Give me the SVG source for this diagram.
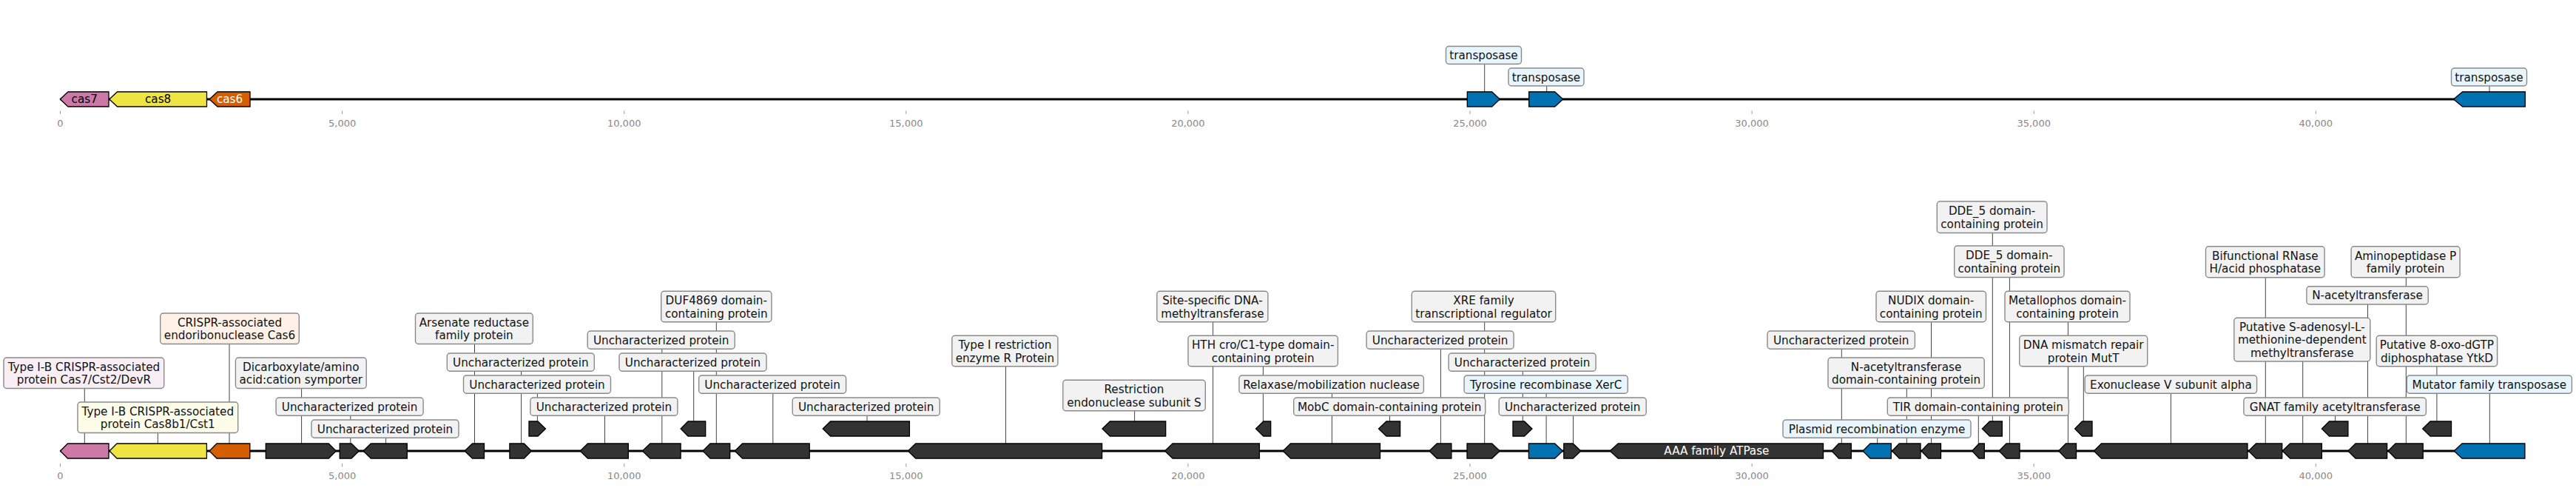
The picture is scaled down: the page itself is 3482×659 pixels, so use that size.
<svg xmlns="http://www.w3.org/2000/svg" width="3482" height="659" viewBox="0 0 3482 659">
<style>
text{font-family:"DejaVu Sans","Liberation Sans",sans-serif}
.bb{stroke:#000;stroke-width:2.8;fill:none}
.tk{stroke:#999;stroke-width:1}
.tl{font-size:13px;fill:#888;text-anchor:middle}
.gn{stroke:#000;stroke-width:1.3;stroke-linejoin:miter}
.dk{fill:#333}
.bl{fill:#0072b2}
.pk{fill:#cc79a7}
.ye{fill:#f0e442}
.or{fill:#d55e00}
.ld{stroke:#444;stroke-width:1;fill:none}
.bx{stroke:#8a8a8a;stroke-width:1.4}
.bg{fill:#f2f2f2}
.bbl{fill:#e8f5fc}
.bpk{fill:#f9eef4}
.bye{fill:#fcfce9}
.bor{fill:#fdf1e8}
.lb{font-size:15.2px;fill:#111;text-anchor:middle}
.in{font-size:15.2px;text-anchor:middle}
</style>
<rect width="3482" height="659" fill="#fff"/>
<g id="backbones">
<line class="bb" x1="81.5" y1="134" x2="3413" y2="134"/>
<line class="bb" x1="81.5" y1="609" x2="3413" y2="609"/>
</g>
<g id="axes">
<g id="axis-top">
<line class="tk" x1="81.5" y1="149.5" x2="81.5" y2="154"/><text class="tl" x="81.5" y="171">0</text>
<line class="tk" x1="462.6" y1="149.5" x2="462.6" y2="154"/><text class="tl" x="462.6" y="171">5,000</text>
<line class="tk" x1="843.7" y1="149.5" x2="843.7" y2="154"/><text class="tl" x="843.7" y="171">10,000</text>
<line class="tk" x1="1224.8" y1="149.5" x2="1224.8" y2="154"/><text class="tl" x="1224.8" y="171">15,000</text>
<line class="tk" x1="1605.9" y1="149.5" x2="1605.9" y2="154"/><text class="tl" x="1605.9" y="171">20,000</text>
<line class="tk" x1="1987" y1="149.5" x2="1987" y2="154"/><text class="tl" x="1987" y="171">25,000</text>
<line class="tk" x1="2368.1" y1="149.5" x2="2368.1" y2="154"/><text class="tl" x="2368.1" y="171">30,000</text>
<line class="tk" x1="2749.2" y1="149.5" x2="2749.2" y2="154"/><text class="tl" x="2749.2" y="171">35,000</text>
<line class="tk" x1="3130.3" y1="149.5" x2="3130.3" y2="154"/><text class="tl" x="3130.3" y="171">40,000</text>
</g>
<g id="axis-bottom">
<line class="tk" x1="81.5" y1="626" x2="81.5" y2="630.5"/><text class="tl" x="81.5" y="647">0</text>
<line class="tk" x1="462.6" y1="626" x2="462.6" y2="630.5"/><text class="tl" x="462.6" y="647">5,000</text>
<line class="tk" x1="843.7" y1="626" x2="843.7" y2="630.5"/><text class="tl" x="843.7" y="647">10,000</text>
<line class="tk" x1="1224.8" y1="626" x2="1224.8" y2="630.5"/><text class="tl" x="1224.8" y="647">15,000</text>
<line class="tk" x1="1605.9" y1="626" x2="1605.9" y2="630.5"/><text class="tl" x="1605.9" y="647">20,000</text>
<line class="tk" x1="1987" y1="626" x2="1987" y2="630.5"/><text class="tl" x="1987" y="647">25,000</text>
<line class="tk" x1="2368.1" y1="626" x2="2368.1" y2="630.5"/><text class="tl" x="2368.1" y="647">30,000</text>
<line class="tk" x1="2749.2" y1="626" x2="2749.2" y2="630.5"/><text class="tl" x="2749.2" y="647">35,000</text>
<line class="tk" x1="3130.3" y1="626" x2="3130.3" y2="630.5"/><text class="tl" x="3130.3" y="647">40,000</text>
</g>
</g>
<g id="connectors">
<line class="ld" x1="2006.7" y1="86" x2="2006.7" y2="124"/>
<line class="ld" x1="2090.7" y1="116" x2="2090.7" y2="124"/>
<line class="ld" x1="3365" y1="116" x2="3365" y2="124"/>
<line class="ld" x1="114.3" y1="524" x2="114.3" y2="599"/>
<line class="ld" x1="213.3" y1="584" x2="213.3" y2="599"/>
<line class="ld" x1="310" y1="464" x2="310" y2="599"/>
<line class="ld" x1="407.6" y1="524" x2="407.6" y2="599"/>
<line class="ld" x1="473.8" y1="561" x2="473.8" y2="599"/>
<line class="ld" x1="521.6" y1="591" x2="521.6" y2="599"/>
<line class="ld" x1="641.5" y1="464" x2="641.5" y2="599"/>
<line class="ld" x1="704.6" y1="501" x2="704.6" y2="599"/>
<line class="ld" x1="726.4" y1="531" x2="726.4" y2="569"/>
<line class="ld" x1="817.5" y1="561" x2="817.5" y2="599"/>
<line class="ld" x1="894.8" y1="471" x2="894.8" y2="599"/>
<line class="ld" x1="968.3" y1="434" x2="968.3" y2="599"/>
<line class="ld" x1="937.7" y1="501" x2="937.7" y2="569"/>
<line class="ld" x1="1044.8" y1="531" x2="1044.8" y2="599"/>
<line class="ld" x1="1172" y1="561" x2="1172" y2="569"/>
<line class="ld" x1="1359.5" y1="494" x2="1359.5" y2="599"/>
<line class="ld" x1="1533.6" y1="554" x2="1533.6" y2="569"/>
<line class="ld" x1="1639.6" y1="434" x2="1639.6" y2="599"/>
<line class="ld" x1="1707.4" y1="494" x2="1707.4" y2="569"/>
<line class="ld" x1="1800.4" y1="531" x2="1800.4" y2="599"/>
<line class="ld" x1="1878.5" y1="561" x2="1878.5" y2="569"/>
<line class="ld" x1="1947.4" y1="471" x2="1947.4" y2="599"/>
<line class="ld" x1="2006.7" y1="434" x2="2006.7" y2="599"/>
<line class="ld" x1="2058.3" y1="501" x2="2058.3" y2="569"/>
<line class="ld" x1="2090.1" y1="531" x2="2090.1" y2="599"/>
<line class="ld" x1="2126.5" y1="561" x2="2126.5" y2="599"/>
<line class="ld" x1="2489.3" y1="471" x2="2489.3" y2="599"/>
<line class="ld" x1="2537.7" y1="591" x2="2537.7" y2="599"/>
<line class="ld" x1="2577.3" y1="524" x2="2577.3" y2="599"/>
<line class="ld" x1="2610.5" y1="434" x2="2610.5" y2="599"/>
<line class="ld" x1="2674.3" y1="561" x2="2674.3" y2="599"/>
<line class="ld" x1="2693.3" y1="314" x2="2693.3" y2="569"/>
<line class="ld" x1="2716.4" y1="374" x2="2716.4" y2="599"/>
<line class="ld" x1="2795.4" y1="434" x2="2795.4" y2="599"/>
<line class="ld" x1="2816.3" y1="494" x2="2816.3" y2="569"/>
<line class="ld" x1="2934.4" y1="531" x2="2934.4" y2="599"/>
<line class="ld" x1="3062.3" y1="374" x2="3062.3" y2="599"/>
<line class="ld" x1="3112.7" y1="488" x2="3112.7" y2="599"/>
<line class="ld" x1="3156.6" y1="561" x2="3156.6" y2="569"/>
<line class="ld" x1="3200.5" y1="411" x2="3200.5" y2="599"/>
<line class="ld" x1="3252.3" y1="374" x2="3252.3" y2="599"/>
<line class="ld" x1="3293.9" y1="494" x2="3293.9" y2="569"/>
<line class="ld" x1="3365.3" y1="531" x2="3365.3" y2="599"/>
</g>
<g id="top-track">
<g id="t1"><polygon class="gn pk" points="81.3,134 92,124 147,124 147,144 92,144"/><text class="in" x="114.2" y="139.3" fill="#000">cas7</text></g>
<g id="t2"><polygon class="gn ye" points="147.8,134 158.5,124 279.5,124 279.5,144 158.5,144"/><text class="in" x="213.6" y="139.3" fill="#000">cas8</text></g>
<g id="t3"><polygon class="gn or" points="283,134 294,124 338,124 338,144 294,144"/><text class="in" x="310.5" y="139.3" fill="#fff">cas6</text></g>
<g id="t4"><polygon class="gn bl" points="1983.3,124 2016.7,124 2027.3,134 2016.7,144 1983.3,144"/><rect class="bx bbl" x="1954.5" y="62.5" width="102" height="24" rx="4"/><text class="lb" x="2005.5" y="80">transposase</text></g>
<g id="t5"><polygon class="gn bl" points="2066.7,124 2101.7,124 2112.7,134 2101.7,144 2066.7,144"/><rect class="bx bbl" x="2039" y="92" width="102" height="24" rx="4"/><text class="lb" x="2090" y="109.5">transposase</text></g>
<g id="t6"><polygon class="gn bl" points="3316.5,134 3328.6,124 3413.3,124 3413.3,144 3328.6,144"/><rect class="bx bbl" x="3313.5" y="92" width="102" height="24" rx="4"/><text class="lb" x="3364.5" y="109.5">transposase</text></g>
</g>
<g id="bottom-track">
<g id="g1"><polygon class="gn pk" points="81.5,609 91.5,599 147,599 147,619 91.5,619"/><rect class="bx bpk" x="5" y="483" width="216.7" height="41.5" rx="4"/><text class="lb" x="113.4"><tspan x="113.4" y="501">Type I-B CRISPR-associated</tspan><tspan x="113.4" y="518.3">protein Cas7/Cst2/DevR</tspan></text></g>
<g id="g2"><polygon class="gn ye" points="148,609 158,599 279.4,599 279.4,619 158,619"/><rect class="bx bye" x="105" y="543" width="216.7" height="41.5" rx="4"/><text class="lb"><tspan x="213.3" y="561">Type I-B CRISPR-associated</tspan><tspan x="213.3" y="578.3">protein Cas8b1/Cst1</tspan></text></g>
<g id="g3"><polygon class="gn or" points="283,609 293,599 337.8,599 337.8,619 293,619"/><rect class="bx bor" x="216.7" y="423" width="187.6" height="41.5" rx="4"/><text class="lb"><tspan x="310.5" y="441">CRISPR-associated</tspan><tspan x="310.5" y="458.3">endoribonuclease Cas6</tspan></text></g>
<g id="g4"><polygon class="gn dk" points="359.3,599 444.3,599 454.3,609 444.3,619 359.3,619"/><rect class="bx bg" x="318.4" y="483" width="176.8" height="41.5" rx="4"/><text class="lb"><tspan x="406.8" y="501">Dicarboxylate/amino</tspan><tspan x="406.8" y="518.3">acid:cation symporter</tspan></text></g>
<g id="g5"><polygon class="gn dk" points="459.2,599 475,599 485.3,609 475,619 459.2,619"/><rect class="bx bg" x="373.1" y="537" width="199" height="24.3" rx="4"/><text class="lb" x="472.6" y="554.5">Uncharacterized protein</text></g>
<g id="g6"><polygon class="gn dk" points="491,609 501.3,599 550.3,599 550.3,619 501.3,619"/><rect class="bx bg" x="421" y="567" width="199" height="24.3" rx="4"/><text class="lb" x="520.5" y="584.5">Uncharacterized protein</text></g>
<g id="g7"><polygon class="gn dk" points="628.1,609 638.5,599 654.5,599 654.5,619 638.5,619"/><rect class="bx bg" x="561.5" y="423" width="158.8" height="41.5" rx="4"/><text class="lb"><tspan x="640.9" y="441">Arsenate reductase</tspan><tspan x="640.9" y="458.3">family protein</tspan></text></g>
<g id="g8"><polygon class="gn dk" points="688.9,599 708.4,599 718.4,609 708.4,619 688.9,619"/><rect class="bx bg" x="604.3" y="477" width="199" height="24.3" rx="4"/><text class="lb" x="703.8" y="494.5">Uncharacterized protein</text></g>
<g id="g9"><polygon class="gn dk" points="715,569 727,569 737.5,579 727,589 715,589"/><rect class="bx bg" x="626.5" y="507" width="199" height="24.3" rx="4"/><text class="lb" x="726" y="524.5">Uncharacterized protein</text></g>
<g id="g10"><polygon class="gn dk" points="784.2,609 794.5,599 849.3,599 849.3,619 794.5,619"/><rect class="bx bg" x="716.9" y="537" width="199" height="24.3" rx="4"/><text class="lb" x="816.4" y="554.5">Uncharacterized protein</text></g>
<g id="g11"><polygon class="gn dk" points="868.4,609 878.8,599 920.1,599 920.1,619 878.8,619"/><rect class="bx bg" x="794.2" y="447" width="199" height="24.3" rx="4"/><text class="lb" x="893.7" y="464.5">Uncharacterized protein</text></g>
<g id="g12"><polygon class="gn dk" points="920.1,579 930,569 953.7,569 953.7,589 930,589"/><rect class="bx bg" x="837" y="477" width="199" height="24.3" rx="4"/><text class="lb" x="936.5" y="494.5">Uncharacterized protein</text></g>
<g id="g13"><polygon class="gn dk" points="950,609 960,599 986.7,599 986.7,619 960,619"/><rect class="bx bg" x="893.7" y="393.3" width="149.2" height="41.5" rx="4"/><text class="lb"><tspan x="968.3" y="411.3">DUF4869 domain-</tspan><tspan x="968.3" y="428.6">containing protein</tspan></text></g>
<g id="g14"><polygon class="gn dk" points="993.2,609 1003.5,599 1094.2,599 1094.2,619 1003.5,619"/><rect class="bx bg" x="944.6" y="507" width="199" height="24.3" rx="4"/><text class="lb" x="1044.1" y="524.5">Uncharacterized protein</text></g>
<g id="g15"><polygon class="gn dk" points="1112.2,579 1122.5,569 1229.4,569 1229.4,589 1122.5,589"/><rect class="bx bg" x="1071.2" y="537" width="199" height="24.3" rx="4"/><text class="lb" x="1170.7" y="554.5">Uncharacterized protein</text></g>
<g id="g16"><polygon class="gn dk" points="1227.4,609 1237.7,599 1489.6,599 1489.6,619 1237.7,619"/><rect class="bx bg" x="1286.8" y="453.3" width="143.1" height="41.5" rx="4"/><text class="lb"><tspan x="1358.4" y="471.3">Type I restriction</tspan><tspan x="1358.4" y="488.6">enzyme R Protein</tspan></text></g>
<g id="g17"><polygon class="gn dk" points="1490,579 1500.3,569 1575.7,569 1575.7,589 1500.3,589"/><rect class="bx bg" x="1436.8" y="513.3" width="192.5" height="41.5" rx="4"/><text class="lb"><tspan x="1533" y="531.3">Restriction</tspan><tspan x="1533" y="548.6">endonuclease subunit S</tspan></text></g>
<g id="g18"><polygon class="gn dk" points="1574.6,609 1585,599 1702.4,599 1702.4,619 1585,619"/><rect class="bx bg" x="1563.8" y="393.3" width="150.1" height="41.5" rx="4"/><text class="lb"><tspan x="1638.9" y="411.3">Site-specific DNA-</tspan><tspan x="1638.9" y="428.6">methyltransferase</tspan></text></g>
<g id="g19"><polygon class="gn dk" points="1697.5,579 1707.8,569 1717.7,569 1717.7,589 1707.8,589"/><rect class="bx bg" x="1606" y="453.3" width="202.4" height="41.5" rx="4"/><text class="lb"><tspan x="1707.2" y="471.3">HTH cro/C1-type domain-</tspan><tspan x="1707.2" y="488.6">containing protein</tspan></text></g>
<g id="g20"><polygon class="gn dk" points="1734.2,609 1744.5,599 1865.5,599 1865.5,619 1744.5,619"/><rect class="bx bg" x="1674.9" y="507" width="249.5" height="24.3" rx="4"/><text class="lb" x="1799.6" y="524.5">Relaxase/mobilization nuclease</text></g>
<g id="g21"><polygon class="gn dk" points="1863.5,579 1874,569 1892.6,569 1892.6,589 1874,589"/><rect class="bx bg" x="1748.7" y="537" width="259.1" height="24.3" rx="4"/><text class="lb" x="1878.2" y="554.5">MobC domain-containing protein</text></g>
<g id="g22"><polygon class="gn dk" points="1932,609 1942.3,599 1961.9,599 1961.9,619 1942.3,619"/><rect class="bx bg" x="1847.1" y="447" width="199" height="24.3" rx="4"/><text class="lb" x="1946.6" y="464.5">Uncharacterized protein</text></g>
<g id="g23"><polygon class="gn dk" points="1983,599 2016.7,599 2027.3,609 2016.7,619 1983,619"/><rect class="bx bg" x="1908.3" y="393.3" width="194.4" height="41.5" rx="4"/><text class="lb"><tspan x="2005.5" y="411.3">XRE family</tspan><tspan x="2005.5" y="428.6">transcriptional regulator</tspan></text></g>
<g id="g24"><polygon class="gn dk" points="2045,569 2060.5,569 2071,579 2060.5,589 2045,589"/><rect class="bx bg" x="1958.1" y="477" width="199" height="24.3" rx="4"/><text class="lb" x="2057.6" y="494.5">Uncharacterized protein</text></g>
<g id="g25"><polygon class="gn bl" points="2066.4,599 2101.7,599 2112.3,609 2101.7,619 2066.4,619"/><rect class="bx bbl" x="1979.1" y="507" width="221.2" height="24.3" rx="4"/><text class="lb" x="2089.7" y="524.5">Tyrosine recombinase XerC</text></g>
<g id="g26"><polygon class="gn dk" points="2113.8,599 2126.3,599 2136.8,609 2126.3,619 2113.8,619"/><rect class="bx bg" x="2026.2" y="537" width="199" height="24.3" rx="4"/><text class="lb" x="2125.7" y="554.5">Uncharacterized protein</text></g>
<g id="g27"><polygon class="gn dk" points="2176.2,609 2187.2,599 2464.5,599 2464.5,619 2187.2,619"/><text class="in" x="2320.4" y="614.3" fill="#fff">AAA family ATPase</text></g>
<g id="g28"><polygon class="gn dk" points="2476,609 2485.5,599 2502.3,599 2502.3,619 2485.5,619"/><rect class="bx bg" x="2389" y="447" width="199.4" height="24.3" rx="4"/><text class="lb" x="2488.7" y="464.5">Uncharacterized protein</text></g>
<g id="g29"><polygon class="gn bl" points="2518,609 2528,599 2556.3,599 2556.3,619 2528,619"/><rect class="bx bbl" x="2410" y="567" width="254" height="24.3" rx="4"/><text class="lb" x="2537" y="584.5">Plasmid recombination enzyme</text></g>
<g id="g30"><polygon class="gn dk" points="2557.5,609 2567.3,599 2596,599 2596,619 2567.3,619"/><rect class="bx bg" x="2471" y="483" width="211.2" height="41.5" rx="4"/><text class="lb"><tspan x="2576.6" y="501">N-acetyltransferase</tspan><tspan x="2576.6" y="518.3">domain-containing protein</tspan></text></g>
<g id="g31"><polygon class="gn dk" points="2597,609 2606.7,599 2623.5,599 2623.5,619 2606.7,619"/><rect class="bx bg" x="2536" y="393.3" width="148.5" height="41.5" rx="4"/><text class="lb"><tspan x="2610.2" y="411.3">NUDIX domain-</tspan><tspan x="2610.2" y="428.6">containing protein</tspan></text></g>
<g id="g32"><polygon class="gn dk" points="2665.7,609 2675,599 2682.3,599 2682.3,619 2675,619"/><rect class="bx bg" x="2551.3" y="537" width="245" height="24.3" rx="4"/><text class="lb" x="2673.8" y="554.5">TIR domain-containing protein</text></g>
<g id="g33"><polygon class="gn dk" points="2679.4,579 2689.5,569 2706.3,569 2706.3,589 2689.5,589"/><rect class="bx bg" x="2618.3" y="272" width="148.7" height="42.5" rx="4"/><text class="lb"><tspan x="2692.6" y="290.3">DDE_5 domain-</tspan><tspan x="2692.6" y="307.6">containing protein</tspan></text></g>
<g id="g34"><polygon class="gn dk" points="2702.1,609 2712,599 2730,599 2730,619 2712,619"/><rect class="bx bg" x="2641.7" y="332" width="148.3" height="42.5" rx="4"/><text class="lb"><tspan x="2715.8" y="350.3">DDE_5 domain-</tspan><tspan x="2715.8" y="367.6">containing protein</tspan></text></g>
<g id="g35"><polygon class="gn dk" points="2782.7,609 2792.5,599 2806.5,599 2806.5,619 2792.5,619"/><rect class="bx bg" x="2710" y="393.3" width="169" height="41.5" rx="4"/><text class="lb"><tspan x="2794.5" y="411.3">Metallophos domain-</tspan><tspan x="2794.5" y="428.6">containing protein</tspan></text></g>
<g id="g36"><polygon class="gn dk" points="2804.6,579 2814.5,569 2828,569 2828,589 2814.5,589"/><rect class="bx bg" x="2729.7" y="453.3" width="173" height="41.5" rx="4"/><text class="lb"><tspan x="2816.2" y="471.3">DNA mismatch repair</tspan><tspan x="2816.2" y="488.6">protein MutT</tspan></text></g>
<g id="g37"><polygon class="gn dk" points="2830.3,609 2840.5,599 3038,599 3038,619 2840.5,619"/><rect class="bx bg" x="2818.2" y="507" width="232.4" height="24.3" rx="4"/><text class="lb" x="2934.4" y="524.5">Exonuclease V subunit alpha</text></g>
<g id="g38"><polygon class="gn dk" points="3039.4,609 3049.5,599 3084.7,599 3084.7,619 3049.5,619"/><rect class="bx bg" x="2981.5" y="332.7" width="160.6" height="42" rx="4"/><text class="lb"><tspan x="3061.8" y="350.8">Bifunctional RNase</tspan><tspan x="3061.8" y="368.1">H/acid phosphatase</tspan></text></g>
<g id="g39"><polygon class="gn dk" points="3085.2,609 3095.5,599 3138.4,599 3138.4,619 3095.5,619"/><rect class="bx bg" x="3019.8" y="429.3" width="184" height="58.7" rx="4"/><text class="lb"><tspan x="3111.8" y="447">Putative S-adenosyl-L-</tspan><tspan x="3111.8" y="464.3">methionine-dependent</tspan><tspan x="3111.8" y="481.6">methyltransferase</tspan></text></g>
<g id="g40"><polygon class="gn dk" points="3138.4,579 3148.5,569 3173.9,569 3173.9,589 3148.5,589"/><rect class="bx bg" x="3032.9" y="537" width="246.5" height="24.3" rx="4"/><text class="lb" x="3156.2" y="554.5">GNAT family acetyltransferase</text></g>
<g id="g41"><polygon class="gn dk" points="3173.9,609 3184,599 3226.6,599 3226.6,619 3184,619"/><rect class="bx bg" x="3117.9" y="386.7" width="164.3" height="24.3" rx="4"/><text class="lb" x="3200" y="404.2">N-acetyltransferase</text></g>
<g id="g42"><polygon class="gn dk" points="3228,609 3238,599 3275.2,599 3275.2,619 3238,619"/><rect class="bx bg" x="3178.1" y="332.7" width="147" height="42" rx="4"/><text class="lb"><tspan x="3251.6" y="350.8">Aminopeptidase P</tspan><tspan x="3251.6" y="368.1">family protein</tspan></text></g>
<g id="g43"><polygon class="gn dk" points="3274.7,579 3285,569 3313.5,569 3313.5,589 3285,589"/><rect class="bx bg" x="3212.2" y="453.3" width="163.4" height="41.5" rx="4"/><text class="lb"><tspan x="3293.9" y="471.3">Putative 8-oxo-dGTP</tspan><tspan x="3293.9" y="488.6">diphosphatase YtkD</tspan></text></g>
<g id="g44"><polygon class="gn bl" points="3317.2,609 3328,599 3412.9,599 3412.9,619 3328,619"/><rect class="bx bbl" x="3253.3" y="507" width="223.1" height="24.3" rx="4"/><text class="lb" x="3364.8" y="524.5">Mutator family transposase</text></g>
</g>
</svg>
